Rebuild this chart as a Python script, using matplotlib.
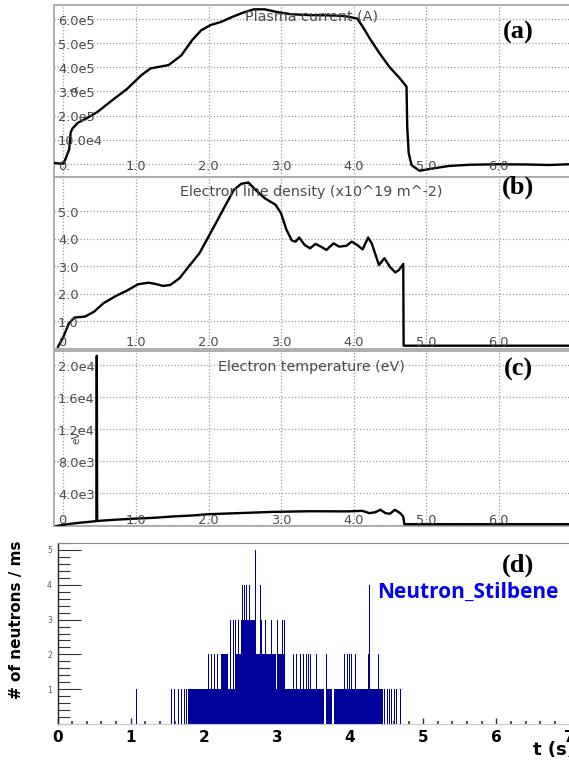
import matplotlib
matplotlib.use("Agg")
import matplotlib.pyplot as plt
import matplotlib.transforms as mtransforms
from matplotlib.ticker import MultipleLocator

# ---------------- data ----------------
# (a) plasma current [A]
t_ip = [-0.12, -0.05, 0.0, 0.03, 0.08, 0.10, 0.125, 0.2, 0.3, 0.47, 0.675, 0.875,
        1.075, 1.2, 1.325, 1.45, 1.625, 1.775, 1.9, 2.025, 2.175, 2.325, 2.475,
        2.625, 2.775, 2.925, 3.125, 3.375, 3.625, 3.875, 4.05, 4.125, 4.225,
        4.36, 4.5, 4.64, 4.73, 4.74, 4.76, 4.8, 4.91, 5.1, 5.32, 5.6, 6.0, 6.4,
        6.7, 6.97]
ip = [0.02e5, 0.0, 0.0, 0.2e5, 0.6e5, 1.3e5, 1.46e5, 1.7e5, 1.85e5, 2.15e5,
      2.64e5, 3.1e5, 3.68e5, 3.96e5, 4.03e5, 4.1e5, 4.5e5, 5.14e5, 5.55e5,
      5.76e5, 5.9e5, 6.1e5, 6.28e5, 6.42e5, 6.42e5, 6.32e5, 6.22e5, 6.18e5,
      6.17e5, 6.14e5, 6.04e5, 5.7e5, 5.2e5, 4.58e5, 4.0e5, 3.54e5, 3.2e5,
      1.5e5, 0.43e5, -0.07e5, -0.3e5, -0.2e5, -0.1e5, -0.05e5, -0.03e5,
      -0.04e5, -0.06e5, -0.03e5]

# (b) electron line density [1e19 m^-2]
t_ne = [-0.075, 0.0, 0.075, 0.15, 0.3, 0.425, 0.55, 0.725, 0.875, 1.025, 1.175,
        1.275, 1.375, 1.475, 1.6, 1.725, 1.875, 2.0, 2.125, 2.25, 2.35, 2.45,
        2.55, 2.65, 2.775, 2.925, 3.0, 3.075, 3.15, 3.2, 3.25, 3.325, 3.4,
        3.475, 3.55, 3.625, 3.725, 3.8, 3.9, 3.975, 4.05, 4.125, 4.2, 4.25,
        4.35, 4.425, 4.5, 4.575, 4.625, 4.685, 4.69, 6.97]
ne = [0.08, 0.45, 0.93, 1.14, 1.18, 1.36, 1.66, 1.93, 2.12, 2.35, 2.41, 2.36,
      2.29, 2.33, 2.57, 2.99, 3.48, 4.08, 4.69, 5.30, 5.78, 6.0, 6.05, 5.78,
      5.48, 5.24, 4.93, 4.33, 3.94, 3.90, 4.05, 3.78, 3.66, 3.82, 3.72, 3.6,
      3.84, 3.72, 3.75, 3.90, 3.78, 3.62, 4.05, 3.84, 3.05, 3.30, 2.99, 2.78,
      2.87, 3.09, 0.12, 0.12]

# (c) electron temperature [eV]
t_te = [-0.1, 0.05, 0.25, 0.455, 0.46, 0.465, 0.7, 1.0, 1.25, 1.5, 1.8, 2.0,
        2.4, 2.9, 3.4, 3.9, 4.12, 4.22, 4.3, 4.37, 4.44, 4.5, 4.57, 4.64,
        4.685, 4.70, 6.97]
te = [-150, 100, 300, 480, 21200, 500, 650, 800, 900, 1060, 1200, 1350, 1480,
      1640, 1720, 1700, 1770, 1480, 1600, 1900, 1480, 1400, 1900, 1500, 1050,
      100, 100]

# (d) neutron counts per ms: solid runs (start, end, count) and single bins
run_start = [1.787, 3.665, 3.785, 2.235, 2.43, 3.0, 2.51]
run_end = [3.640, 3.755, 4.445, 2.33, 2.985, 3.11, 2.72]
run_count = [1, 1, 1, 2, 2, 2, 3]
bin_t = [1.084, 1.456, 1.56, 1.597, 1.66, 1.696, 1.73, 1.76,
         4.47, 4.51, 4.54, 4.57, 4.61, 4.64, 4.685,
         2.07, 2.11, 2.15, 2.19, 2.37, 2.41,
         3.23, 3.27, 3.32, 3.36, 3.40, 3.43, 3.46, 3.54, 3.68, 3.78,
         3.93, 3.96, 3.99, 4.02, 4.07, 4.25, 4.39,
         2.37, 2.40, 2.43, 2.47, 2.79, 2.85, 2.92, 2.96, 3.01, 3.07, 3.11,
         2.53, 2.56, 2.59, 2.62, 2.775, 4.27,
         2.705]
bin_count = [1, 1, 1, 1, 1, 1, 1, 1,
             1, 1, 1, 1, 1, 1, 1,
             2, 2, 2, 2, 2, 2,
             2, 2, 2, 2, 2, 2, 2, 2, 2, 2,
             2, 2, 2, 2, 2, 2, 2,
             3, 3, 3, 3, 3, 3, 3, 3, 3, 3, 3,
             4, 4, 4, 4, 4, 4,
             5]

scope_xticks = [0, 1, 2, 3, 4, 5, 6]
scope_xlabels = ["", "1.0", "2.0", "3.0", "4.0", "5.0", "6.0"]
ip_ticks = [1e5, 2e5, 3e5, 4e5, 5e5, 6e5]
ip_labels = ["10.0e4", "2.0e5", "3.0e5", "4.0e5", "5.0e5", "6.0e5"]
ne_ticks = [1, 2, 3, 4, 5]
ne_labels = ["1.0", "2.0", "3.0", "4.0", "5.0"]
te_ticks = [4e3, 8e3, 1.2e4, 1.6e4, 2.0e4]
te_labels = ["4.0e3", "8.0e3", "1.2e4", "1.6e4", "2.0e4"]
d_xticks = [0, 1, 2, 3, 4, 5, 6, 7]
d_yticks = [1, 2, 3, 4, 5]

# ---------------- figure ----------------
W, H = 569, 764
fig = plt.figure(figsize=(W / 100, H / 100), dpi=100)


def add_ax(l, t, r, b):
    return fig.add_axes([l / W, 1 - b / H, (r - l) / W, (b - t) / H])


GRID = dict(color="#9c9c9c", lw=0.9, ls=(0, (1, 1.6)), zorder=0)
TXT = dict(family="DejaVu Sans", fontsize=9.3, color="#4a4a4a")


def scope_panel(ax, t, y, ylim, yticks, ylabels, zero_label, title, title_y,
                xlab_off, unit=None, unit_y=None):
    ax.set_xlim(-0.13, 6.97)
    ax.set_ylim(*ylim)
    ax.set_xticks([])
    ax.set_yticks([])
    for s in ax.spines.values():
        s.set_color("#a8a8a8")
        s.set_linewidth(1.3)
    ax.spines["right"].set_visible(False)
    for xv in scope_xticks:
        ax.axvline(xv, **GRID)
    for yv in [0] + list(yticks):
        ax.axhline(yv, **GRID)
    ax.plot(t, y, color="black", lw=1.7, zorder=3, solid_joinstyle="round")
    ytr = mtransforms.blended_transform_factory(ax.transAxes, ax.transData)
    for yv, lab in zip(yticks, ylabels):
        ax.annotate(lab, (0, yv), xycoords=ytr, xytext=(4, -2),
                    textcoords="offset pixels", ha="left", va="center", **TXT)
    xtr = mtransforms.blended_transform_factory(ax.transData, ax.transAxes)
    for xv, lab in zip(scope_xticks, scope_xlabels):
        if lab:
            ax.annotate(lab, (xv, 0), xycoords=xtr, xytext=(0, xlab_off),
                        textcoords="offset pixels", ha="center", va="center", **TXT)
    ax.annotate(zero_label, (0, 0), xycoords="axes fraction", xytext=(4, xlab_off),
                textcoords="offset pixels", ha="left", va="center", **TXT)
    ax.annotate(title, (0.5, 1), xycoords="axes fraction", xytext=(0, -title_y),
                textcoords="offset pixels", ha="center", va="center",
                **{**TXT, "fontsize": 10.3})
    if unit:
        ax.annotate(unit, (0, unit_y), xycoords=ytr, xytext=(22, 0),
                    textcoords="offset pixels", ha="center", va="center",
                    rotation=90, **{**TXT, "fontsize": 7.5})


ax_a = add_ax(54, 5, 569, 177)
scope_panel(ax_a, t_ip, ip, (-0.56e5, 6.6e5), ip_ticks, ip_labels, "0.",
            "Plasma current (A)", 11, 10, unit="A", unit_y=3.1e5)

ax_b = add_ax(54, 177, 569, 349)
scope_panel(ax_b, t_ne, ne, (0, 6.25), ne_ticks, ne_labels, "0",
            "Electron line density (x10^19 m^-2)", 15, 6)

ax_c = add_ax(54, 351, 569, 526)
scope_panel(ax_c, t_te, te, (-130, 21800), te_ticks, te_labels, "0.",
            "Electron temperature (eV)", 16, 6, unit="eV", unit_y=1.1e4)

# (d) neutron histogram
ax_d = add_ax(57.5, 543, 569.5, 724)
NAVY = "#00009a"
ax_d.bar(run_start, run_count, width=[e - s for s, e in zip(run_start, run_end)],
         align="edge", color=NAVY, linewidth=0, zorder=2)
ax_d.bar(bin_t, bin_count, width=0.013, align="center", color=NAVY,
         linewidth=0, zorder=2)
ax_d.set_xlim(0, 7.0)
ax_d.set_ylim(0, 5.2)
ax_d.spines["right"].set_visible(False)
ax_d.spines["top"].set_color("#8c8c8c")
ax_d.spines["bottom"].set_color("#c8c8c8")
ax_d.spines["left"].set_color("#222222")
ax_d.spines["left"].set_linewidth(1.0)
ax_d.set_yticks(d_yticks)
ax_d.yaxis.set_minor_locator(MultipleLocator(0.2))
ax_d.set_xticks(d_xticks)
ax_d.xaxis.set_minor_locator(MultipleLocator(0.2))
ax_d.tick_params(axis="y", which="major", direction="in", length=16.5, width=0.8,
                 color="#333333", labelsize=5.5, labelcolor="#555555", pad=4)
ax_d.tick_params(axis="y", which="minor", direction="in", length=8.5, width=0.8,
                 color="#333333")
ax_d.tick_params(axis="x", which="major", direction="in", length=4.5, width=1.0,
                 color="#333333", labelsize=11, pad=4)
ax_d.tick_params(axis="x", which="minor", direction="in", length=2.2, width=1.2,
                 color="#333333")
for lab in ax_d.get_xticklabels():
    lab.set_fontweight("bold")
    lab.set_family("DejaVu Sans")

fig.text(17 / W, 1 - 620 / H, "# of neutrons / ms", rotation=90, ha="center",
         va="center", fontsize=11, fontweight="bold", family="DejaVu Sans")
fig.text(533 / W, 1 - 750 / H, "t (s)", ha="left", va="center", fontsize=13,
         fontweight="bold", family="DejaVu Sans")
fig.text(377 / W, 1 - 592 / H, "Neutron_Stilbene", ha="left", va="center",
         fontsize=15, fontweight="bold", family="Open Sans", color="#0000f5")

for lab, yy in [("(a)", 32), ("(b)", 187), ("(c)", 369), ("(d)", 565)]:
    fig.text(518 / W, 1 - yy / H, lab, ha="center", va="center", fontsize=19,
             fontweight="bold", family="Liberation Serif")

fig.savefig("out.png", dpi=100)
